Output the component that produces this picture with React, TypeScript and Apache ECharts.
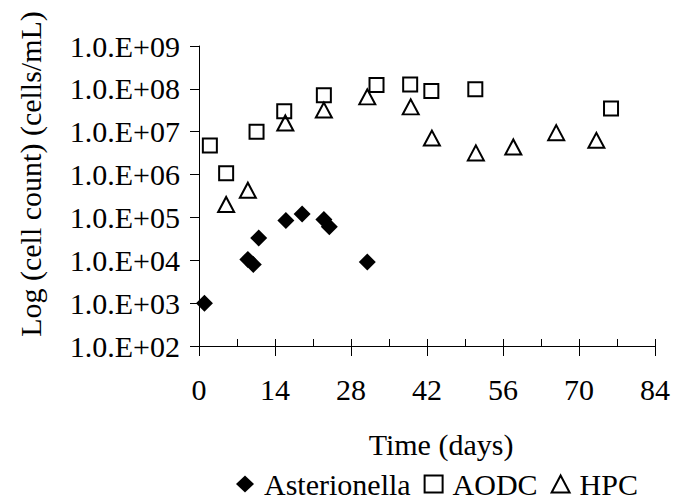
import React, { useEffect, useRef } from "react";
import * as echarts from "echarts";

const seriesNames = ["Asterionella", "AODC", "HPC"];

const asterionellaDays = [1, 9, 10, 11, 16, 19, 23, 24, 31];
const asterionellaValues = [1.0e3, 1.05e4, 8.0e3, 3.3e4, 8.5e4, 1.2e5, 8.9e4, 6.1e4, 9.1e3];

const aodcDays = [2, 5, 10.6, 15.7, 23, 32.7, 38.9, 42.8, 50.9, 75.9];
const aodcValues = [4.8e6, 1.07e6, 1.0e7, 3.0e7, 7.1e7, 1.23e8, 1.26e8, 8.9e7, 9.8e7, 3.5e7];

const hpcDays = [5, 9, 15.9, 23, 31, 39, 42.9, 51, 57.9, 65.8, 73.2];
const hpcValues = [2.0e5, 4.3e5, 1.6e7, 3.2e7, 6.5e7, 3.8e7, 7.1e6, 3.2e6, 4.4e6, 9.5e6, 6.3e6];

const xTicks = [0, 14, 28, 42, 56, 70, 84];
const yTickLabels = [
  "1.0.E+02",
  "1.0.E+03",
  "1.0.E+04",
  "1.0.E+05",
  "1.0.E+06",
  "1.0.E+07",
  "1.0.E+08",
  "1.0.E+09",
];

const xTitle = "Time (days)";
const yTitle = "Log (cell count) (cells/mL)";

const FONT = "'Liberation Serif', 'Times New Roman', serif";
const FS = 30;

function pairs(xs: number[], ys: number[]) {
  return xs.map((x, i) => [x, ys[i]]);
}

export default function App() {
  const ref = useRef<HTMLDivElement>(null);

  useEffect(() => {
    if (!ref.current) return;
    const chart = echarts.init(ref.current, null, { renderer: "svg" });
    const axisLineStyle = { color: "#000", width: 1 };
    chart.setOption({
      animation: false,
      backgroundColor: "#fff",
      textStyle: { fontFamily: FONT, color: "#000" },
      grid: { left: 199, right: 27, top: 46, bottom: 157, containLabel: false },
      xAxis: [
        {
          type: "value",
          min: xTicks[0],
          max: xTicks[xTicks.length - 1],
          interval: 14,
          position: "bottom",
          axisLine: { show: true, lineStyle: axisLineStyle },
          axisTick: { show: true, inside: false, length: 10, lineStyle: axisLineStyle },
          axisLabel: { fontSize: FS, fontFamily: FONT, color: "#000", margin: 28 },
          splitLine: { show: false },
        },
        {
          type: "value",
          min: xTicks[0],
          max: xTicks[xTicks.length - 1],
          interval: 7,
          position: "bottom",
          offset: 0,
          axisLine: { show: false },
          axisTick: { show: true, inside: true, length: 7, lineStyle: axisLineStyle },
          axisLabel: { show: false },
          splitLine: { show: false },
        },
      ],
      yAxis: {
        type: "log",
        logBase: 10,
        min: 1e2,
        max: 1e9,
        interval: 1,
        axisLine: { show: true, lineStyle: axisLineStyle },
        axisTick: { show: true, inside: false, length: 9, lineStyle: axisLineStyle },
        axisLabel: {
          fontSize: FS,
          fontFamily: FONT,
          color: "#000",
          margin: 19,
          formatter: (v: number) => yTickLabels[Math.round(Math.log10(v)) - 2] ?? "",
        },
        splitLine: { show: false },
      },
      legend: {
        data: seriesNames,
        left: 236,
        top: 469,
        padding: 0,
        itemWidth: 18,
        itemHeight: 17,
        itemGap: 13,
        textStyle: { fontSize: FS, fontFamily: FONT, color: "#000", padding: [0, 0, 0, 5] },
      },
      graphic: [
        {
          type: "text",
          x: 30,
          y: 174,
          rotation: Math.PI / 2,
          style: {
            text: yTitle,
            font: `${FS}px ${FONT}`,
            fill: "#000",
            textAlign: "center",
            textVerticalAlign: "middle",
          },
        },
        {
          type: "text",
          x: 441,
          y: 444,
          style: {
            text: xTitle,
            font: `${FS}px ${FONT}`,
            fill: "#000",
            textAlign: "center",
            textVerticalAlign: "middle",
          },
        },
      ],
      series: [
        {
          name: seriesNames[0],
          type: "scatter",
          xAxisIndex: 0,
          symbol: "diamond",
          symbolSize: 17,
          symbolKeepAspect: true,
          itemStyle: { color: "#000", opacity: 1 },
          data: pairs(asterionellaDays, asterionellaValues),
        },
        {
          name: seriesNames[1],
          type: "scatter",
          xAxisIndex: 0,
          symbol: "rect",
          symbolSize: 14,
          symbolKeepAspect: true,
          itemStyle: { color: "rgba(255,255,255,0)", borderColor: "#000", borderWidth: 2, opacity: 1 },
          data: pairs(aodcDays, aodcValues),
        },
        {
          name: seriesNames[2],
          type: "scatter",
          xAxisIndex: 0,
          symbol: "triangle",
          symbolSize: [16, 15],
          itemStyle: { color: "rgba(255,255,255,0)", borderColor: "#000", borderWidth: 2, opacity: 1 },
          data: pairs(hpcDays, hpcValues),
        },
      ],
    });
    return () => chart.dispose();
  }, []);

  return (
    <div
      ref={ref}
      style={{ position: "fixed", left: 0, top: 0, width: 682, height: 503, background: "#fff" }}
    />
  );
}
